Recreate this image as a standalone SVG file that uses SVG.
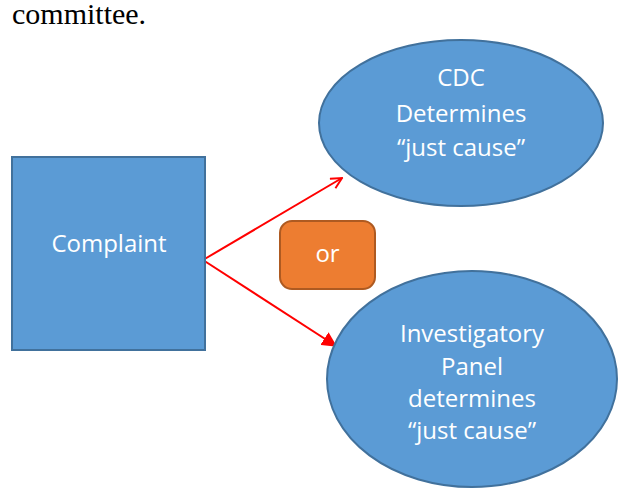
<svg xmlns="http://www.w3.org/2000/svg" width="618" height="489" viewBox="0 0 618 489">
<style>
.shape{fill:#5B9BD5;stroke:#41719C;stroke-width:2}
.lbl{font-family:"Open Sans","Noto Sans",sans-serif;font-size:24px;fill:#ffffff;text-anchor:middle}
.conn{stroke:#FF0000;stroke-width:2;fill:none}
</style>
<defs>
<marker id="open" viewBox="0 0 12 12" refX="11" refY="6" markerWidth="13" markerHeight="13" markerUnits="userSpaceOnUse" orient="auto">
<path d="M1,1 L11,6 L1,11" fill="none" stroke="#FF0000" stroke-width="1.8"/>
</marker>
<marker id="filled" viewBox="0 0 12 12" refX="11" refY="6" markerWidth="15" markerHeight="15" markerUnits="userSpaceOnUse" orient="auto">
<path d="M0,0 L12,6 L0,12 Z" fill="#FF0000"/>
</marker>
</defs>
<rect width="618" height="489" fill="#ffffff"/>
<text x="12" y="24" font-family="'Liberation Serif', serif" font-size="30" fill="#000000">committee.</text>
<g id="connectors">
<line class="conn" x1="203" y1="260" x2="342" y2="178" marker-end="url(#open)"/>
<line class="conn" x1="203" y1="260" x2="336" y2="346" marker-end="url(#filled)"/>
</g>
<g id="complaint">
<rect class="shape" x="12" y="157" width="193" height="193"/>
<text class="lbl" x="109" y="252">Complaint</text>
</g>
<g id="cdc">
<ellipse class="shape" cx="461" cy="123" rx="142" ry="83"/>
<text class="lbl" x="461" y="86">CDC</text>
<text class="lbl" x="461" y="122">Determines</text>
<text class="lbl" x="461" y="156">“just cause”</text>
</g>
<g id="or">
<rect x="280" y="221" width="95" height="68" rx="12" ry="12" fill="#ED7D31" stroke="#AE5A21" stroke-width="2"/>
<text class="lbl" x="327.5" y="262">or</text>
</g>
<g id="panel">
<ellipse class="shape" cx="472" cy="379" rx="145" ry="108"/>
<text class="lbl" x="472" y="342">Investigatory</text>
<text class="lbl" x="472" y="375">Panel</text>
<text class="lbl" x="472" y="407">determines</text>
<text class="lbl" x="472" y="439">“just cause”</text>
</g>
</svg>
